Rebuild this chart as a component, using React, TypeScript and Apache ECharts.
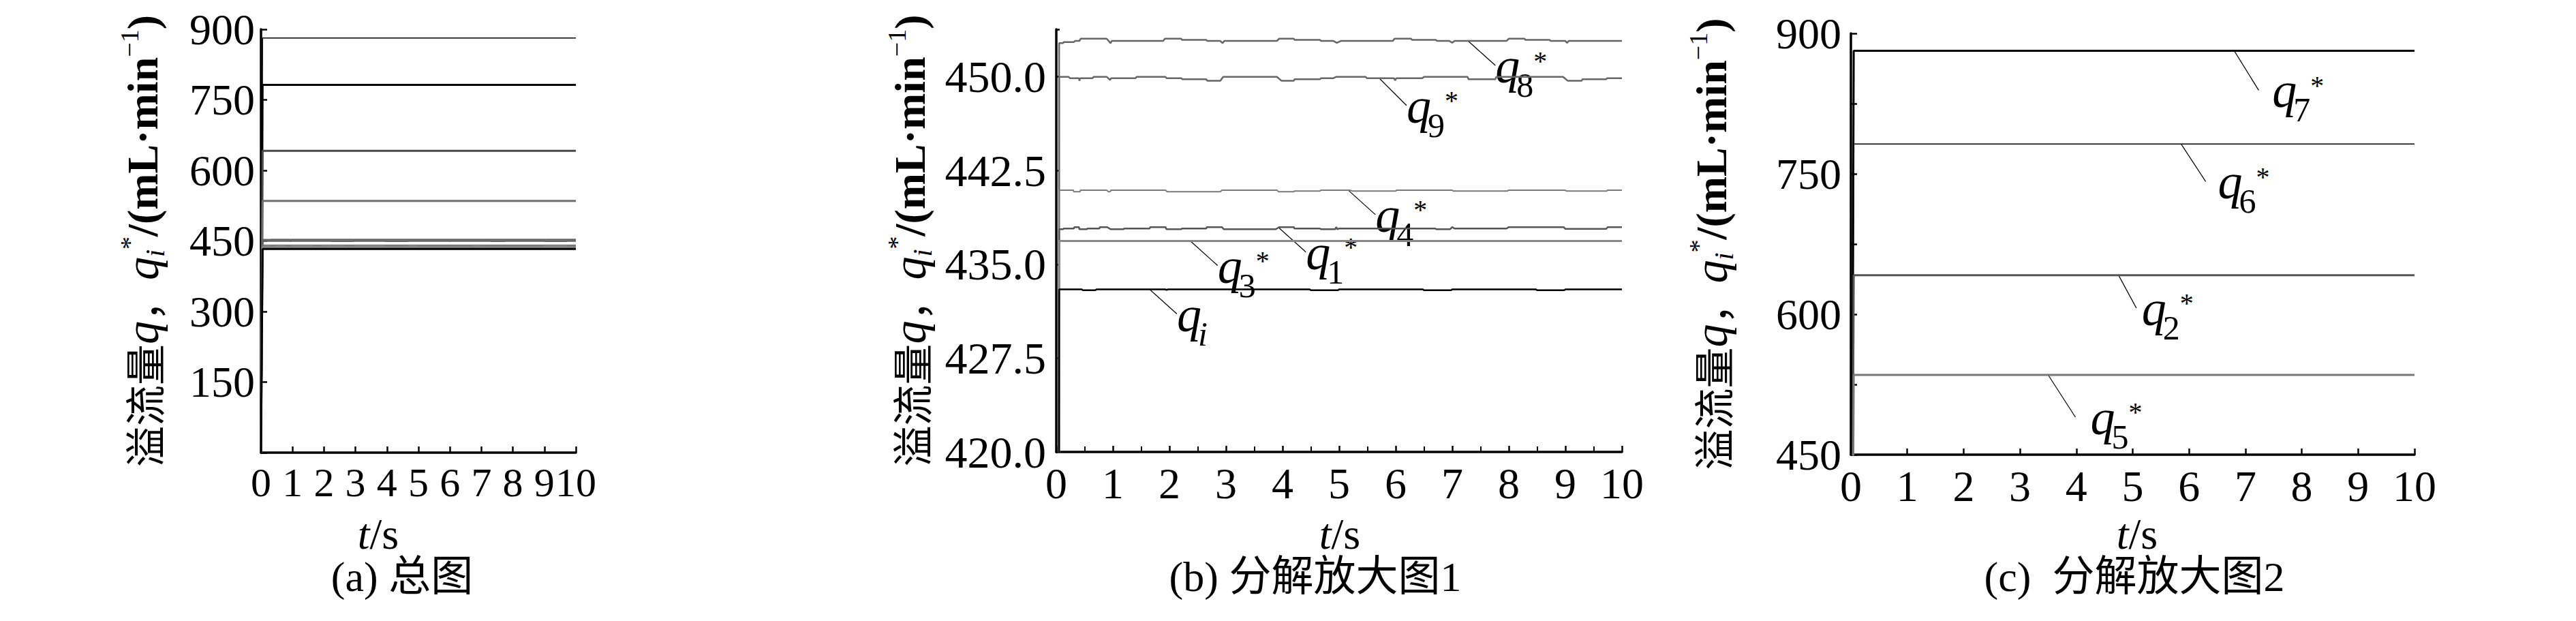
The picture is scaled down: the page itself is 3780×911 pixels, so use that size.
import React, { useEffect, useRef } from "react";
import * as echarts from "echarts";

type Pt = [number, number];

const SERIF = "Liberation Serif";
const CJK = "Noto Sans CJK SC";
const MIXED = "Liberation Serif, Noto Sans CJK SC";

// time axis (s)
const timeAxis = [0, 10, 1];
// y axes: [min, max, interval]
const yAxisA = [0, 900, 150];
const yAxisB = [420, 453.8, 7.5];
const yAxisC = [450, 900, 75];

// series: [t (s), flow (mL/min)]
const q7Star: Pt[] = [[0, 0], [0.05, 881.5], [10, 881.5]];
const q6Star: Pt[] = [[0, 0], [0.05, 781.8], [10, 781.8]];
const q2Star: Pt[] = [[0, 0], [0.05, 641.6], [10, 641.6]];
const q5Star: Pt[] = [[0, 0], [0.05, 535.2], [10, 535.2]];
const q8Star: Pt[] = [
  [0, 0], [0.05, 452.69], [0.12, 452.69], [0.13, 452.78], [0.31, 452.78], [0.33, 452.87], [0.41, 452.87],
  [0.43, 453.05], [0.89, 453.05], [0.96, 452.69], [0.98, 452.87], [1.89, 452.87], [1.92, 453.05], [2.21, 453.05],
  [2.22, 452.96], [2.65, 452.96], [2.67, 452.87], [2.9, 452.87], [2.94, 452.69], [2.97, 452.87], [3.9, 452.87],
  [3.94, 453.05], [4.2, 453.05], [4.21, 452.96], [4.66, 452.96], [4.68, 452.87], [4.9, 452.87], [4.96, 452.72],
  [5.03, 452.87], [5.95, 452.87], [5.98, 453.05], [6.27, 453.05], [6.29, 452.96], [6.71, 452.96], [6.73, 452.87],
  [6.95, 452.87], [7.0, 452.72], [7.04, 452.87], [7.96, 452.87], [8.0, 453.05], [8.28, 453.05], [8.29, 452.96],
  [8.72, 452.96], [8.74, 452.87], [9.0, 452.87], [9.03, 452.72], [9.06, 452.87], [10, 452.87],
];
const q9Star: Pt[] = [
  [0, 0], [0.05, 450.0], [0.22, 450.0], [0.24, 449.89], [0.4, 449.89], [0.41, 449.69], [0.42, 449.89], [0.64, 449.89],
  [0.66, 450.0], [0.89, 450.0], [0.95, 449.75], [0.97, 449.89], [1.4, 449.89], [1.42, 450.0], [1.93, 450.0],
  [1.95, 449.89], [2.21, 449.89], [2.23, 449.8], [2.65, 449.8], [2.67, 449.69], [2.9, 449.69], [2.95, 450.0],
  [3.9, 450.0], [3.98, 449.69], [4.2, 449.69], [4.21, 449.8], [4.66, 449.8], [4.68, 449.89], [4.9, 449.89],
  [4.95, 450.0], [5.47, 450.0], [5.49, 449.89], [5.97, 449.89], [5.99, 449.72], [6.01, 449.89], [6.47, 449.89],
  [6.5, 450.0], [7.27, 450.0], [7.29, 449.8], [7.76, 449.8], [7.78, 450.0], [8.96, 450.0], [9.04, 449.69],
  [9.29, 449.69], [9.3, 449.8], [9.72, 449.8], [9.74, 449.89], [10, 449.89],
];
const q4Star: Pt[] = [
  [0, 0], [0.05, 440.94], [0.3, 440.94], [0.31, 440.81], [0.42, 440.81], [0.43, 440.94], [0.89, 440.94],
  [0.92, 440.81], [0.95, 440.81], [0.97, 440.94], [1.93, 440.94], [1.96, 440.81], [2.9, 440.81], [2.93, 440.94],
  [3.9, 440.94], [3.93, 440.81], [4.2, 440.81], [4.21, 440.87], [4.66, 440.87], [4.68, 440.94], [5.19, 440.94],
  [5.23, 440.87], [6.0, 440.87], [6.02, 440.94], [7.0, 440.94], [7.02, 440.86], [7.97, 440.86], [8.0, 440.94],
  [8.99, 440.94], [9.02, 440.87], [9.73, 440.87], [9.75, 440.94], [10, 440.94],
];
const q1Star: Pt[] = [
  [0, 0], [0.05, 437.81], [0.12, 437.81], [0.13, 437.87], [0.31, 437.87], [0.32, 437.98], [0.4, 437.98],
  [0.41, 437.81], [0.54, 437.81], [0.55, 437.87], [0.76, 437.87], [0.77, 437.98], [0.9, 437.98], [0.96, 437.81],
  [1.19, 437.81], [1.2, 437.87], [1.65, 437.87], [1.66, 437.98], [1.93, 437.98], [1.95, 437.81], [2.21, 437.81],
  [2.22, 437.87], [2.65, 437.87], [2.66, 437.98], [2.93, 437.98], [2.96, 437.81], [3.88, 437.81], [3.94, 437.98],
  [4.2, 437.98], [4.21, 437.87], [4.66, 437.87], [4.68, 437.81], [4.93, 437.81], [4.95, 437.98], [4.97, 437.81],
  [5.0, 437.87], [6.7, 437.87], [6.72, 437.81], [6.96, 437.81], [7.0, 437.98], [7.04, 437.87], [7.96, 437.87],
  [8.0, 437.98], [8.97, 437.98], [9.0, 437.84], [9.72, 437.84], [9.75, 437.98], [10, 437.98],
];
const q3Star: Pt[] = [[0, 0], [0.05, 436.87], [10, 436.87]];
const qInput: Pt[] = [
  [0, 0], [0.05, 433.0], [0.45, 433.0], [0.47, 432.93], [0.69, 432.93], [0.71, 433.0], [1.93, 433.0],
  [1.95, 432.95], [1.97, 433.0], [4.48, 433.0], [4.5, 432.93], [4.98, 432.93], [5.0, 433.0], [6.48, 433.0],
  [6.5, 432.93], [6.98, 432.93], [7.0, 433.0], [8.48, 433.0], [8.5, 432.93], [8.98, 432.93], [9.0, 433.0],
  [10, 433.0],
];

const seriesData: Record<string, Pt[]> = {
  q7: q7Star, q6: q6Star, q2: q2Star, q5: q5Star, q8: q8Star,
  q9: q9Star, q4: q4Star, q1: q1Star, q3: q3Star, qi: qInput,
};

// panel membership
const panelASeries = ["q7", "q6", "q2", "q5", "q8", "q9", "q4", "q1", "q3", "qi"];
const panelBSeries = ["q8", "q9", "q4", "q1", "q3", "qi"];
const panelCSeries = ["q7", "q6", "q2", "q5"];

// annotation anchors: series, panel, t on the curve, subscript
const annotations = [
  { key: "q8", panel: 1, t: 7.28, sub: "8" },
  { key: "q9", panel: 1, t: 5.71, sub: "9" },
  { key: "q4", panel: 1, t: 5.16, sub: "4" },
  { key: "q1", panel: 1, t: 3.93, sub: "1" },
  { key: "q3", panel: 1, t: 2.37, sub: "3" },
  { key: "qi", panel: 1, t: 1.65, sub: "i" },
  { key: "q7", panel: 2, t: 6.8, sub: "7" },
  { key: "q6", panel: 2, t: 5.86, sub: "6" },
  { key: "q2", panel: 2, t: 4.75, sub: "2" },
  { key: "q5", panel: 2, t: 3.5, sub: "5" },
];

const captions = ["(a) 总图", "(b) 分解放大图1", "(c)  分解放大图2"];

const lineStyles: Record<string, [string, number]>[] = [
  { q7: ["#000", 1.5], q6: ["#000", 3], q2: ["#4a4a4a", 3], q5: ["#707070", 3], q8: ["#666", 2.5], q9: ["#666", 2.5], q4: ["#777", 2], q1: ["#555", 2.5], q3: ["#888", 3], qi: ["#000", 3] },
  { q8: ["#666", 2.5], q9: ["#666", 2.5], q4: ["#7a7a7a", 2], q1: ["#555", 2.5], q3: ["#888", 3], qi: ["#000", 2.5] },
  { q7: ["#000", 3], q6: ["#000", 1.5], q2: ["#555", 3], q5: ["#777", 3] },
];
// leader-line offset [dx, dy] and gap from leader end to the label
const annoOffsets: Record<string, [number, number, number]> = {
  q8: [40, 36, 0], q9: [40, 40, 0], q4: [40, 36, 0], q1: [40, 36, 0], q3: [40, 36, 0], qi: [40, 36, 0],
  q7: [36, 58, 20], q6: [36, 55, 18], q2: [26, 48, 8], q5: [40, 62, 22],
};

function valueAt(data: Pt[], t: number): number {
  for (let i = 0; i < data.length - 1; i++) {
    const [t0, v0] = data[i];
    const [t1, v1] = data[i + 1];
    if (t >= t0 && t <= t1) return v0 + ((v1 - v0) * (t - t0)) / (t1 - t0 || 1);
  }
  return data[data.length - 1][1];
}

const yName = "{cn|溢流量}{it|q}{cn|，}{it|q}{sub|i}{sup|*}{n|/(mL·min}{sup|−1}{n|)}";
const yNameRich = {
  cn: { fontFamily: CJK, fontSize: 60, lineHeight: 76, color: "#000" },
  it: { fontFamily: SERIF, fontStyle: "italic", fontSize: 68, lineHeight: 76, color: "#000" },
  sub: { fontFamily: SERIF, fontStyle: "italic", fontSize: 40, lineHeight: 42, verticalAlign: "bottom", color: "#000" },
  sup: { fontFamily: SERIF, fontSize: 38, lineHeight: 38, verticalAlign: "top", color: "#000" },
  n: { fontFamily: SERIF, fontSize: 64, fontWeight: "bold", lineHeight: 76, color: "#000" },
};

const grids = [
  { left: 383, top: 43, width: 462, height: 621 },
  { left: 1550, top: 43, width: 830, height: 620 },
  { left: 2716, top: 49, width: 827, height: 618 },
];
const yRanges = [yAxisA, yAxisB, yAxisC];
const nameGaps = [136, 177, 167];
const yLabelMargins = [9, 15, 14];
const yLabelSizes = [64, 66, 64];
const xLabelSizes = [60, 64, 64];
const tsPos = [[555, 783], [1966, 783], [3136, 783]];
const capPos = [[590, 846], [1930, 846], [3132, 846]];

export default function App() {
  const ref = useRef<HTMLDivElement>(null);
  useEffect(() => {
    if (!ref.current) return;
    const chart = echarts.init(ref.current, undefined, { renderer: "svg" });
    const axisLine = { show: true, onZero: false, lineStyle: { color: "#000", width: 3.5 } };
    const tickStyle = { show: true, inside: true, length: 9, lineStyle: { color: "#000", width: 2.5 } };
    const xAxes = grids.map((_, i) => ({
      type: "value",
      gridIndex: i,
      min: timeAxis[0],
      max: timeAxis[1],
      interval: timeAxis[2],
      axisLine,
      axisTick: tickStyle,
      minorTick: i === 1 ? { show: true, splitNumber: 2, length: 8, lineStyle: { color: "#000", width: 2 } } : { show: false },
      splitLine: { show: false },
      axisLabel: { color: "#000", fontFamily: SERIF, fontSize: xLabelSizes[i], margin: 14, hideOverlap: false },
    }));
    const yAxes = grids.map((_, i) => {
      const [mn, mx, step] = yRanges[i];
      return {
        type: "value",
        gridIndex: i,
        min: mn,
        max: mx,
        interval: step,
        axisLine,
        axisTick: { ...tickStyle, length: i === 1 ? 5 : 9 },
        splitLine: { show: false },
        axisLabel: {
          color: "#000",
          fontFamily: SERIF,
          fontSize: yLabelSizes[i],
          margin: yLabelMargins[i],
          formatter: (v: number) => {
            if (i === 0) return v === 0 ? "" : String(v);
            if (i === 1) {
              const k = (v - mn) / step;
              return Math.abs(k - Math.round(k)) < 1e-6 ? v.toFixed(1) : "";
            }
            return Math.abs(v % 150) < 1e-6 ? String(v) : "";
          },
        },
        name: yName,
        nameLocation: "middle",
        nameRotate: 90,
        nameGap: nameGaps[i],
        nameTextStyle: { color: "#000", fontFamily: SERIF, fontSize: 64, rich: yNameRich },
      };
    });
    const panels = [panelASeries, panelBSeries, panelCSeries];
    const series: any[] = [];
    panels.forEach((keys, p) => {
      keys.forEach((k) => {
        const [color, width] = lineStyles[p][k];
        series.push({
          type: "line",
          name: k,
          xAxisIndex: p,
          yAxisIndex: p,
          data: seriesData[k],
          symbol: "none",
          clip: true,
          silent: true,
          lineStyle: { color, width },
        });
      });
    });
    chart.setOption({
      animation: false,
      backgroundColor: "#fff",
      textStyle: { fontFamily: SERIF },
      grid: grids,
      xAxis: xAxes,
      yAxis: yAxes,
      series,
    });

    const graphics: any[] = [];
    const txt = (x: number, y: number, text: string, fontSize: number, italic: boolean, family = SERIF, align = "left") => ({
      type: "text", x, y, silent: true,
      style: {
        text, fontSize, fontFamily: family, fontStyle: italic ? "italic" : "normal", fill: "#000",
        align, textAlign: align, verticalAlign: "middle", textVerticalAlign: "middle",
      },
    });
    annotations.forEach((a) => {
      const v = valueAt(seriesData[a.key], a.t);
      const p = chart.convertToPixel({ xAxisIndex: a.panel, yAxisIndex: a.panel }, [a.t, v]) as number[];
      const [dx, dy, gap] = annoOffsets[a.key];
      const ex = p[0] + dx;
      const ey = p[1] + dy;
      const lx = ex + gap;
      graphics.push({ type: "line", shape: { x1: p[0], y1: p[1], x2: ex, y2: ey }, style: { stroke: "#000", lineWidth: 1.2 }, silent: true });
      graphics.push(txt(lx, ey + 1, "q", 72, true));
      graphics.push(txt(lx + 31, ey + 29, a.sub, 50, a.sub === "i"));
      if (a.sub !== "i") graphics.push(txt(lx + 56, ey - 7, "*", 40, false));
    });
    tsPos.forEach(([x, y]) => {
      graphics.push({
        type: "text", x, y, silent: true,
        style: {
          text: "{i|t}{n|/s}",
          rich: { i: { fontFamily: SERIF, fontStyle: "italic", fontSize: 64, color: "#000" }, n: { fontFamily: SERIF, fontSize: 64, color: "#000" } },
          fill: "#000", align: "center", textAlign: "center", verticalAlign: "middle", textVerticalAlign: "middle",
        },
      });
    });
    captions.forEach((c, i) => {
      const [x, y] = capPos[i];
      graphics.push(txt(x, y, c, 62, false, MIXED, "center"));
    });
    chart.setOption({ graphic: graphics });
    return () => chart.dispose();
  }, []);
  return <div ref={ref} style={{ position: "absolute", left: 0, top: 0, width: 3780, height: 911, background: "#fff" }} />;
}
